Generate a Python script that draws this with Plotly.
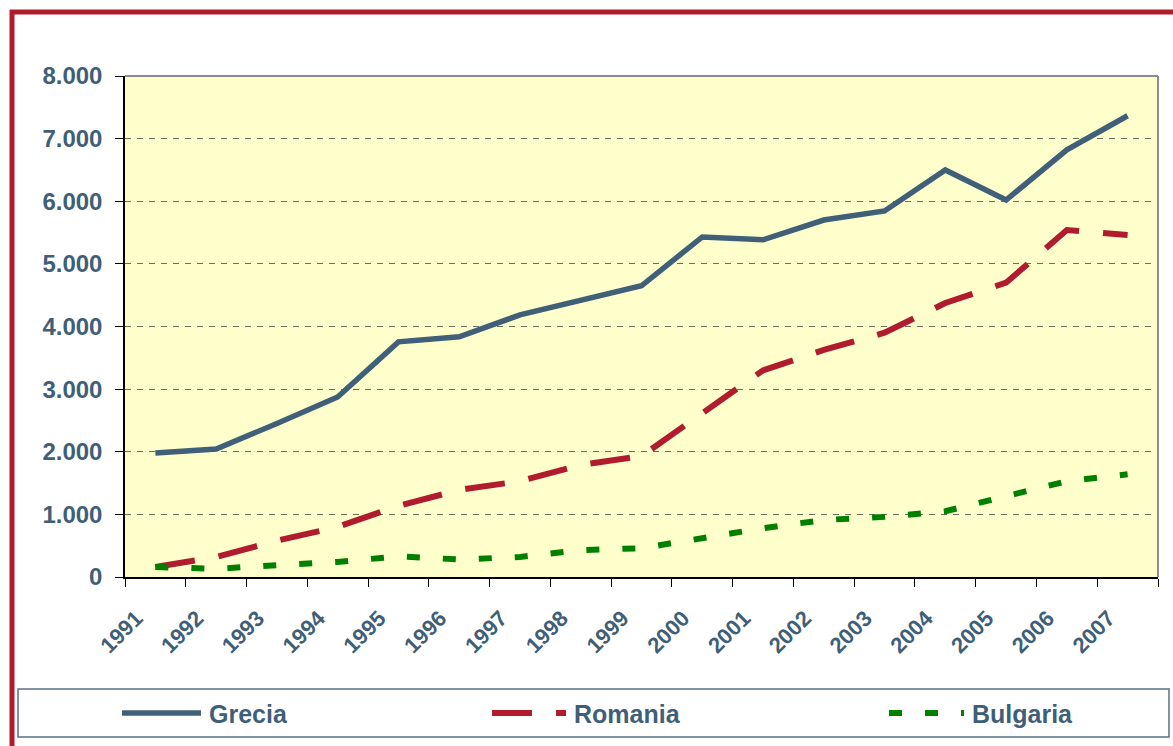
import plotly.graph_objects as go

years = [str(y) for y in range(1991, 2008)]
grecia = [1980, 2045, 2450, 2875, 3755, 3835, 4185, 4425, 4650, 5430, 5385, 5700, 5845, 6500, 6020, 6820, 7365]
romania = [160, 320, 580, 800, 1135, 1390, 1530, 1790, 1930, 2620, 3300, 3625, 3900, 4375, 4700, 5540, 5460]
bulgaria = [160, 130, 190, 240, 330, 280, 320, 430, 460, 620, 780, 910, 960, 1050, 1280, 1530, 1640]
y_ticks = [0, 1000, 2000, 3000, 4000, 5000, 6000, 7000, 8000]

TXT = "#3f5f78"
FONT = "Liberation Sans, Arial, sans-serif"
C_GR, C_RO, C_BG = "#3f6078", "#b01c2e", "#008000"
D_RO, D_BG = "40px,24px", "13px,23px"

fig = go.Figure()
fig.add_trace(go.Scatter(x=years, y=grecia, name="Grecia", mode="lines",
                         line=dict(color=C_GR, width=5.5)))
fig.add_trace(go.Scatter(x=years, y=romania, name="Romania", mode="lines",
                         line=dict(color=C_RO, width=6, dash=D_RO)))
fig.add_trace(go.Scatter(x=years, y=bulgaria, name="Bulgaria", mode="lines",
                         line=dict(color=C_BG, width=6, dash=D_BG)))

W, H = 1173, 746
L, T = 125, 76
R = W - 1158
B = H - 577
pw, ph = W - L - R, H - T - B

def px(x):
    return (x - L) / pw

def py(y):
    return (H - B - y) / ph

shapes = [
    dict(type="line", xref="paper", yref="paper", x0=0, x1=1, y0=1, y1=1,
         line=dict(color="#8c8c8c", width=2)),
    dict(type="line", xref="paper", yref="paper", x0=1, x1=1, y0=0, y1=1,
         line=dict(color="#8c8c8c", width=2)),
    dict(type="line", xref="paper", yref="paper", x0=px(12), x1=px(12), y0=py(10), y1=py(760),
         line=dict(color="#b01c2e", width=5)),
    dict(type="line", xref="paper", yref="paper", x0=px(10), x1=px(1190), y0=py(12), y1=py(12),
         line=dict(color="#b01c2e", width=5)),
    dict(type="rect", xref="paper", yref="paper", x0=px(18), x1=px(1169), y0=py(689), y1=py(737),
         line=dict(color="#5a7086", width=1.5), fillcolor="rgba(0,0,0,0)"),
]

# legend drawn manually (long sample lines like the original)
legend_items = [
    ("Grecia", C_GR, 5.5, "solid", 122, 201, 207),
    ("Romania", C_RO, 6, D_RO, 492, 566, 572),
    ("Bulgaria", C_BG, 6, D_BG, 889, 964, 970),
]
annotations = []
LY = 713
for name, col, w, dash, x0, x1, xt in legend_items:
    shapes.append(dict(type="line", xref="paper", yref="paper", x0=px(x0), x1=px(x1),
                       y0=py(LY), y1=py(LY), line=dict(color=col, width=w, dash=dash)))
    annotations.append(dict(text=name, xref="paper", yref="paper", x=px(xt), y=py(LY + 1),
                            xanchor="left", yanchor="middle", showarrow=False,
                            font=dict(size=25, color=TXT, weight="bold", family=FONT)))

fig.update_layout(
    width=W, height=H,
    margin=dict(l=L, r=R, t=T, b=B, autoexpand=False),
    paper_bgcolor="white", plot_bgcolor="#ffffcc",
    separators=",.",
    font=dict(family=FONT, color=TXT, size=20),
    showlegend=False,
    shapes=shapes,
    annotations=annotations,
    xaxis=dict(type="category", tickangle=-45, showgrid=False, showline=True,
               linecolor="black", linewidth=1.5, ticks="outside", tickson="boundaries",
               ticklen=8, tickcolor="black", tickfont=dict(size=22, weight="bold", color=TXT),
               ticklabelshift=-19, ticklabelstandoff=18,
               range=[-0.5, 16.5]),
    yaxis=dict(range=[0, 8000], tickvals=y_ticks, tickformat=",d", showline=True,
               linecolor="black", linewidth=1.5, ticks="outside", ticklen=8, tickcolor="black",
               showgrid=True, gridcolor="#6e6e60", griddash="6px,6px", gridwidth=1.3,
               zeroline=False, ticklabelstandoff=8,
               tickfont=dict(size=24, weight="bold", color=TXT)),
)

fig.write_html("out.html", config={"displayModeBar": False},
               post_script="document.body.style.margin='0';document.body.style.overflow='hidden';")
